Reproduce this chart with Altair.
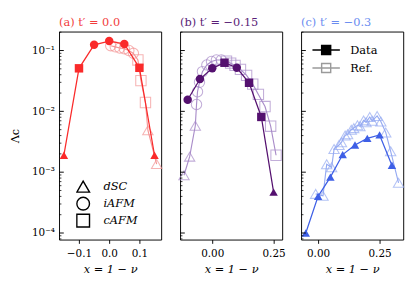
import altair as alt
import pandas as pd

# ---------------- data ----------------
# panel (a) t' = 0.0
a_data_x = [-0.15, -0.10, -0.05, 0.00, 0.05, 0.10, 0.15]
a_data_y = [1.9e-3, 0.051, 0.124, 0.143, 0.128, 0.052, 1.9e-3]
a_data_phase = ["dSC", "cAFM", "iAFM", "iAFM", "iAFM", "cAFM", "dSC"]
a_ref_x = [0.005, 0.02, 0.035, 0.05, 0.065, 0.08, 0.095, 0.105, 0.12, 0.128, 0.157]
a_ref_y = [0.120, 0.115, 0.110, 0.107, 0.100, 0.090, 0.070, 0.032, 0.014, 4.9e-3, 1.36e-3]
a_ref_phase = ["iAFM"] * 6 + ["cAFM"] * 3 + ["dSC"] * 2

# panel (b) t' = -0.15
b_data_x = [-0.10, -0.05, 0.00, 0.05, 0.10, 0.15, 0.20, 0.25]
b_data_y = [0.0155, 0.034, 0.051, 0.063, 0.052, 0.0295, 0.0081, 4.7e-4]
b_data_phase = ["iAFM", "iAFM", "iAFM", "cAFM", "iAFM", "cAFM", "cAFM", "dSC"]
b_ref_x = [-0.115, -0.092, -0.069, -0.064, -0.060, -0.052, -0.040, -0.022, -0.003, 0.017, 0.037,
           0.058, 0.075, 0.093, 0.115, 0.140, 0.165, 0.188, 0.215, 0.238, 0.260]
b_ref_y = [8.9e-4, 1.8e-3, 5.8e-3, 0.013, 0.021, 0.030, 0.045, 0.058, 0.066, 0.070, 0.070,
           0.067, 0.062, 0.057, 0.049, 0.039, 0.028, 0.019, 0.012, 5.7e-3, 1.9e-3]
b_ref_phase = ["dSC"] * 3 + ["iAFM"] * 8 + ["cAFM"] * 10

# panel (c) t' = -0.3
c_data_x = [-0.05, 0.00, 0.05, 0.10, 0.15, 0.20, 0.25, 0.30]
c_data_y = [1.0e-4, 4.0e-4, 8.3e-4, 1.95e-3, 2.8e-3, 3.6e-3, 4.1e-3, 1.3e-3]
c_data_phase = ["dSC"] * 8
c_ref_x = [-0.01, 0.02, 0.035, 0.055, 0.065, 0.085, 0.095, 0.11, 0.12, 0.135, 0.145, 0.16,
           0.17, 0.185, 0.195, 0.21, 0.22, 0.24, 0.255, 0.275, 0.295, 0.327]
c_ref_y = [4.4e-4, 4.1e-4, 1.35e-3, 1.2e-3, 2.4e-3, 2.8e-3, 3.1e-3, 4.0e-3, 4.2e-3, 5.0e-3, 5.3e-3,
           5.9e-3, 5.7e-3, 7.1e-3, 6.6e-3, 8.1e-3, 7.0e-3, 8.4e-3, 6.8e-3, 4.5e-3, 2.2e-3, 6.7e-4]
c_ref_phase = ["dSC"] * 22

panel_titles = ["(a) t\u2032 = 0.0", "(b) t\u2032 = \u22120.15", "(c) t\u2032 = \u22120.3"]
title_colors = ["#f23c3c", "#5a1e78", "#6a8cf0"]
series_names = ["a_data", "a_ref", "b_data", "b_ref", "c_data", "c_ref"]
series_colors = ["#fa2a2a", "#f49494", "#54106f", "#a98cc9", "#3e5fe6", "#95aaf2"]

phases = ["dSC", "iAFM", "cAFM"]
phase_shapes = ["triangle-up", "circle", "square"]
kinds = ["Data", "Ref."]

y_tick_values = [1e-4, 1e-3, 1e-2, 1e-1]
y_tick_labels = ["10\u207b\u2074", "10\u207b\u00b3", "10\u207b\u00b2", "10\u207b\u00b9"]
y_minor_values = [m * 10.0 ** k for k in range(-5, 0) for m in range(2, 10)
                  if 7.8e-5 <= m * 10.0 ** k <= 0.205]
y_domain = [7.8e-5, 0.205]

x_domains = [[-0.166, 0.172], [-0.131, 0.285], [-0.069, 0.346]]
x_ticks = [[-0.1, 0.0, 0.1], [0.0, 0.25], [0.0, 0.25]]
x_formats = [".1f", ".2f", ".2f"]

FONT = "DejaVu Serif"

# ---------------- helpers ----------------
def df(xs, ys, phase, series, kind):
    return pd.DataFrame({"x": xs, "y": ys, "phase": phase,
                         "series": [series] * len(xs), "kind": [kind] * len(xs)})

label_expr = ""
for i in range(len(y_tick_values) - 1):
    thr = (y_tick_values[i] * y_tick_values[i + 1]) ** 0.5
    label_expr += f"datum.value < {thr} ? '{y_tick_labels[i]}' : "
label_expr += f"'{y_tick_labels[-1]}'"

yscale = alt.Scale(type="log", domain=y_domain, nice=False)
color_scale = alt.Scale(domain=series_names, range=series_colors)
shape_scale = alt.Scale(domain=phases, range=phase_shapes)

major_df = pd.DataFrame({"v": y_tick_values})
minor_df = pd.DataFrame({"v": y_minor_values})

legend_path = "M-1,0H1M-0.33,-0.33H0.33V0.33H-0.33Z"


def panel(i, data_df, ref_df, yaxis, legend):
    xscale = alt.Scale(domain=x_domains[i], nice=False, zero=False)
    xaxis = alt.Axis(values=x_ticks[i], format=x_formats[i], title="x = 1 \u2212 \u03bd",
                     titleFontStyle="italic", titleFontSize=12, grid=False, domain=False,
                     tickSize=4, tickColor="black", labelPadding=5, titlePadding=6)
    X = alt.X("x:Q", scale=xscale, axis=xaxis)
    Y = alt.Y("y:Q", scale=yscale, axis=yaxis)
    YV = alt.Y("v:Q", scale=yscale, axis=yaxis)
    C = alt.Color("series:N", scale=color_scale, legend=None)

    shape_legend = None
    if legend == "shape":
        shape_legend = alt.Legend(
            orient="none", legendX=18, legendY=156, title=None, padding=0,
            rowPadding=2, clipHeight=16, labelOffset=14, labelFontStyle="italic",
            labelFontSize=12, labelFont=FONT, symbolSize=180, symbolStrokeColor="black",
            symbolFillColor="transparent", symbolStrokeWidth=1.5, symbolOpacity=1)
    ref_enc = dict(x=X, y=Y, color=C,
                   shape=alt.Shape("phase:N", scale=shape_scale, legend=shape_legend))
    dat_enc = dict(x=X, y=Y, color=C,
                   shape=alt.Shape("phase:N", scale=shape_scale, legend=None))
    if legend == "kind":
        dat_enc["opacity"] = alt.Opacity(
            "kind:N", scale=alt.Scale(domain=kinds, range=[1, 1]),
            legend=alt.Legend(
                orient="none", legendX=11, legendY=11, title=None, padding=0,
                rowPadding=2, clipHeight=17, labelOffset=10, labelFontSize=12,
                labelFont=FONT, symbolSize=841, symbolType=legend_path,
                symbolFillColor={"expr": "datum.value === 'Data' ? 'black' : 'transparent'"},
                symbolStrokeColor={"expr": "datum.value === 'Data' ? 'black' : '#9a9a9a'"},
                symbolStrokeWidth=1.5, symbolOpacity=1))

    base_ref = alt.Chart(ref_df)
    base_dat = alt.Chart(data_df)
    ref_line = base_ref.mark_line(strokeWidth=1.2).encode(x=X, y=Y, color=C)
    ref_pts = base_ref.mark_point(filled=False, size=120, strokeWidth=1.1).encode(**ref_enc)
    dat_line = base_dat.mark_line(strokeWidth=1.3).encode(x=X, y=Y, color=C)
    dat_pts = base_dat.mark_point(filled=True, size=80, opacity=1).encode(**dat_enc)
    major = alt.Chart(major_df).mark_rule(color="black", strokeWidth=1).encode(
        y=YV, x=alt.value(0), x2=alt.value(5))
    minor = alt.Chart(minor_df).mark_rule(color="black", strokeWidth=0.8).encode(
        y=YV, x=alt.value(0), x2=alt.value(2.5))

    return alt.layer(ref_line, ref_pts, dat_line, dat_pts, major, minor).properties(
        width=108, height=220,
        title=alt.TitleParams(panel_titles[i], color=title_colors[i], anchor="start",
                              frame="group", fontSize=12, font=FONT,
                              fontWeight="normal", offset=3))


yaxis_a = alt.Axis(values=y_tick_values, labelExpr=label_expr, ticks=False, domain=False,
                   grid=False, labelPadding=5, minExtent=35, maxExtent=35,
                   title="\u039bc", titlePadding=5, titleFontSize=12)
yaxis_c = alt.Axis(values=y_tick_values, labels=False, ticks=True, tickSize=4,
                   tickColor="transparent", domain=False, grid=False, title=None)

pa = panel(0, df(a_data_x, a_data_y, a_data_phase, "a_data", "Data"),
           df(a_ref_x, a_ref_y, a_ref_phase, "a_ref", "Ref."), yaxis_a, "shape")
pb = panel(1, df(b_data_x, b_data_y, b_data_phase, "b_data", "Data"),
           df(b_ref_x, b_ref_y, b_ref_phase, "b_ref", "Ref."), None, None)
pc = panel(2, df(c_data_x, c_data_y, c_data_phase, "c_data", "Data"),
           df(c_ref_x, c_ref_y, c_ref_phase, "c_ref", "Ref."), yaxis_c, "kind")

chart = alt.hconcat(pa, pb, pc, spacing=11).resolve_scale(
    x="independent", y="independent", shape="independent", opacity="independent"
).properties(padding=0, background="white").configure_view(
    stroke="black", strokeWidth=1
).configure_axis(
    labelFont=FONT, titleFont=FONT, labelFontSize=11, titleFontSize=11,
    titleFontWeight="normal", labelColor="black", titleColor="black"
).configure_legend(labelFont=FONT, labelColor="black"
).configure_title(font=FONT)

chart.save("out.html", embed_options={"renderer": "svg", "actions": False})
